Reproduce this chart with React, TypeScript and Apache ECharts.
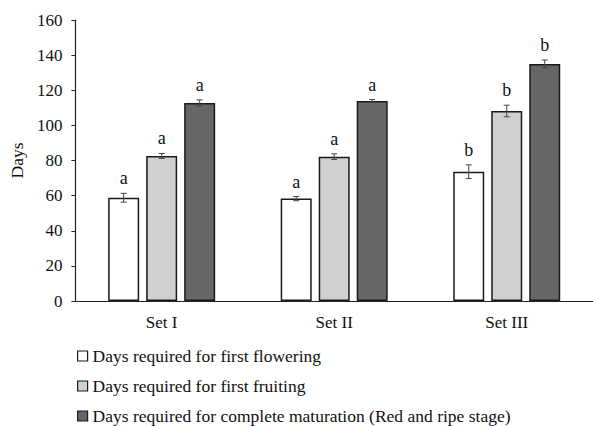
import React, { useEffect, useRef } from "react";
import * as echarts from "echarts";

const categories = ["Set I", "Set II", "Set III"];
const seriesNames = [
  "Days required for first flowering",
  "Days required for first fruiting",
  "Days required for complete maturation (Red and ripe stage)",
];
const flowering = [58.8, 58.3, 73.6];
const fruiting = [82.6, 82.2, 108.2];
const maturation = [112.8, 113.9, 135.0];
const floweringErr = [2.5, 1.2, 3.9];
const fruitingErr = [1.4, 1.6, 3.3];
const maturationErr = [1.7, 0.8, 2.2];
const floweringLetters = ["a", "a", "b"];
const fruitingLetters = ["a", "a", "b"];
const maturationLetters = ["a", "a", "b"];
const yTicks = { min: 0, max: 160, interval: 20 };

const colors = ["#ffffff", "#d0d0d0", "#666666"];
const FONT = "Liberation Serif";
const BAR_W = 31;
const BAR_STEP = 38;

export default function App() {
  const ref = useRef<HTMLDivElement>(null);
  useEffect(() => {
    document.body.style.margin = "0";
    if (!ref.current) return;
    const chart = echarts.init(ref.current, null, { renderer: "svg" });
    const values = [flowering, fruiting, maturation];
    const errs = [floweringErr, fruitingErr, maturationErr];
    const letters = [floweringLetters, fruitingLetters, maturationLetters];

    const errData: any[] = [];
    values.forEach((arr, s) => {
      arr.forEach((v, c) => {
        errData.push([c, s, v, errs[s][c], letters[s][c]]);
      });
    });

    const barSeries = values.map((arr, s) => ({
      name: seriesNames[s],
      type: "bar",
      data: arr,
      barWidth: BAR_W,
      barGap: ((BAR_STEP - BAR_W) / BAR_W) * 100 + "%",
      itemStyle: { color: colors[s], borderColor: "#1a1a1a", borderWidth: 1.5 },
      emphasis: { disabled: true },
    }));

    const option: any = {
      animation: false,
      textStyle: { fontFamily: FONT },
      grid: { left: 72, right: 0, top: 20, bottom: 125, containLabel: false },
      legend: {
        orient: "vertical",
        left: 77,
        top: 347,
        height: 100,
        padding: 0,
        itemWidth: 10,
        itemHeight: 10,
        itemGap: 12,
        itemTextGap: 4,
        icon: "rect",
        textStyle: { fontFamily: FONT, fontSize: 17.5, color: "#111", lineHeight: 17 },
        data: seriesNames.map((n, s) => ({
          name: n,
          itemStyle: { color: colors[s], borderColor: "#1a1a1a", borderWidth: 1.2 },
        })),
      },
      xAxis: {
        type: "category",
        data: categories,
        axisLine: { lineStyle: { color: "#222", width: 1.2 } },
        axisTick: { show: false },
        axisLabel: { fontFamily: FONT, fontSize: 17, color: "#111", margin: 13 },
      },
      yAxis: {
        type: "value",
        min: yTicks.min,
        max: yTicks.max,
        interval: yTicks.interval,
        name: "Days",
        nameLocation: "middle",
        nameGap: 47,
        nameTextStyle: { fontFamily: FONT, fontSize: 17.5, color: "#111" },
        axisLine: { show: true, lineStyle: { color: "#222", width: 1.2 } },
        axisTick: { show: true, length: 4, lineStyle: { color: "#222" } },
        splitLine: { show: false },
        axisLabel: { fontFamily: FONT, fontSize: 17, color: "#111", margin: 13 },
      },
      series: [
        ...barSeries,
        {
          type: "custom",
          data: errData,
          z: 10,
          silent: true,
          renderItem: (params: any, api: any) => {
            const c = api.value(0);
            const s = api.value(1);
            const v = api.value(2);
            const e = api.value(3);
            const letter = errData[params.dataIndex][4];
            const center = api.coord([c, 0]);
            const x = center[0] + (s - 1) * BAR_STEP;
            const yTop = api.coord([c, v + e])[1];
            const yBot = api.coord([c, v - e])[1];
            const style = { stroke: "#444", lineWidth: 1 };
            return {
              type: "group",
              children: [
                { type: "line", shape: { x1: x, y1: yTop, x2: x, y2: yBot }, style },
                { type: "line", shape: { x1: x - 3, y1: yTop, x2: x + 3, y2: yTop }, style },
                { type: "line", shape: { x1: x - 3, y1: yBot, x2: x + 3, y2: yBot }, style },
                {
                  type: "text",
                  x: x,
                  y: yTop - 6,
                  style: {
                    text: letter,
                    fontFamily: FONT,
                    fontSize: 18,
                    fill: "#111",
                    align: "center",
                    verticalAlign: "bottom",
                  },
                },
              ],
            };
          },
        },
      ],
    };
    chart.setOption(option);
    return () => chart.dispose();
  }, []);
  return <div ref={ref} style={{ width: 593, height: 426 }} />;
}
